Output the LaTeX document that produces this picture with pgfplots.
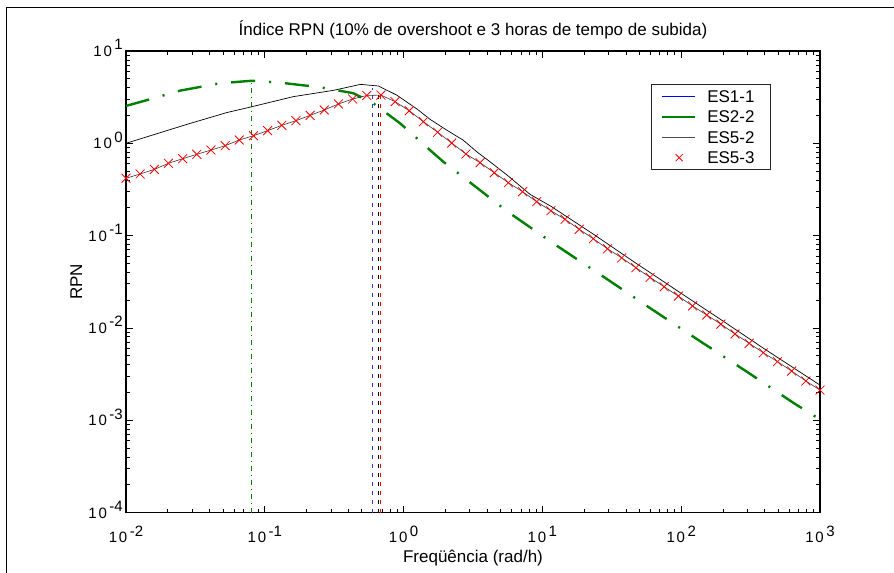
\documentclass[border=0pt]{standalone}
\usepackage{fontspec}
\setmainfont{Liberation Sans}
\usepackage{pgfplots}
\usepackage{pgfplotstable}
\pgfplotsset{compat=1.18}
\definecolor{mgreen}{rgb}{0,0.5,0}
\newcommand{\tl}[1]{1\kern1.8bp0\raisebox{6.5bp}{\kern2.5bp#1}}
\newcommand{\fs}{\fontsize{17bp}{20bp}\selectfont}
\pgfplotsset{
  mylineleg/.style={legend image code/.code={\draw[##1] (0bp,0bp) -- (33bp,0bp);}},
  mymarkleg/.style={legend image code/.code={\path[draw=none] (0bp,0bp) (33bp,0bp); \draw[##1, only marks] plot coordinates {(17bp,0bp)};}},
}

% ES5-3 (markers, logspace(-2,3,50))
\pgfplotstableread{
x y
0.01 0.418
0.012649 0.465
0.016 0.522
0.020236 0.607
0.025595 0.681
0.032375 0.760
0.040949 0.845
0.051795 0.942
0.065513 1.086
0.082864 1.208
0.10481 1.371
0.13257 1.567
0.16768 1.758
0.21210 2.009
0.26827 2.296
0.33932 2.667
0.42919 3.020
0.54287 3.30
0.68665 3.33
0.86851 2.825
1.0985 2.254
1.3895 1.714
1.7575 1.318
2.2230 1.007
2.8118 0.766
3.5565 0.617
4.4984 0.480
5.6899 0.374
7.1969 0.299
9.1029 0.233
11.514 0.186
14.563 0.150
18.420 0.117
23.300 0.0925
29.471 0.0719
37.276 0.0574
47.149 0.0449
59.636 0.0353
75.431 0.0279
95.410 0.0221
120.68 0.0173
152.64 0.0138
193.07 0.0110
244.21 0.00859
308.88 0.00681
390.69 0.00538
494.17 0.00431
625.06 0.00341
790.60 0.00266
1000 0.00212
}\tabEStres

% ES5-2
\pgfplotstableread{
x y
0.01 1.0
0.0281 1.62
0.0531 2.15
0.0806 2.49
0.160 3.20
0.313 3.75
0.49 4.35
0.657 4.18
0.892 3.33
1.25 2.35
1.55 1.82
2.0 1.42
2.69 1.08
3.4 0.80
4.19 0.632
5.7 0.44
8.14 0.28
11.514 0.208
23.3 0.1036
47.149 0.0503
95.41 0.0248
193.07 0.0123
390.69 0.00603
1000 0.00240
}\tabESdois

% ES2-2
\pgfplotstableread{
x y
0.01 2.54
0.0149 3.00
0.0245 3.72
0.0475 4.47
0.0806 4.76
0.1287 4.54
0.25 4.05
0.4345 3.49
0.605 2.71
0.755 2.11
0.942 1.65
1.276 1.10
1.566 0.832
1.93 0.632
2.67 0.434
5.62 0.1815
12.47 0.0791
27.5 0.0359
60 0.0163
132.7 0.0074
296.5 0.00336
661 0.0015
1000 0.00102
}\tabESum

\begin{document}
\begin{tikzpicture}
\useasboundingbox (0bp,0bp) rectangle (894bp,573bp);
\draw[line width=1bp] (6bp,0bp) -- (6bp,565bp) -- (894bp,565bp);
\begin{loglogaxis}[
  at={(126bp,60.5bp)}, anchor=south west,
  scale only axis, width=694bp, height=461.5bp,
  xmin=0.01, xmax=1000, ymin=0.0001, ymax=10,
  clip=false,
  axis line style={line width=1.1bp},
  every tick/.style={black, line width=0.8bp},
  major tick length=7bp, minor tick length=4bp,
  xtick={0.01,0.1,1,10,100,1000},
  xticklabels={\tl{-2},\tl{-1},\tl{0},\tl{1},\tl{2},\tl{3}},
  ytick={0.0001,0.001,0.01,0.1,1,10},
  yticklabels={\tl{-4},\tl{-3},\tl{-2},\tl{-1},\tl{0},\tl{1}},
  xticklabel style={font=\fontsize{15bp}{17bp}\selectfont, anchor=base, inner sep=0pt, yshift=-30bp},
  yticklabel style={font=\fontsize{15bp}{17bp}\selectfont, anchor=base east, inner sep=0pt, xshift=-3bp, yshift=-5.5bp},
  title={Índice RPN (10\% de overshoot e 3 horas de tempo de subida)},
  title style={font=\fs, anchor=base, at={(axis description cs:0.5,1)}, yshift=10bp, inner sep=0pt},
  xlabel={Freqüência (rad/h)},
  xlabel style={font=\fs, anchor=base, at={(axis description cs:0.5,0)}, yshift=-50bp, inner sep=0pt},
  ylabel={RPN},
  ylabel style={font=\fs, anchor=center, at={(axis description cs:-0.0715,0.5)}, inner sep=0pt},
  legend style={at={(axis description cs:0.756,0.9285)}, anchor=north west,
    draw=black!85, line width=0.9bp, fill=white, font=\fs,
    inner xsep=10bp, inner ysep=1.8bp, column sep=5bp, row sep=0pt,
    nodes={inner xsep=6bp, inner ysep=2.2bp, text height=14.1bp, text depth=1.9bp},
    cells={anchor=west}},
]
% vertical markers of the peaks
\addplot[forget plot, mgreen, line width=0.8bp, dash pattern=on 5bp off 4bp on 1bp off 4bp] coordinates {(0.0806,0.0001) (0.0806,4.76)};
\addplot[forget plot, blue!80, line width=0.8bp, dash pattern=on 4bp off 5bp] coordinates {(0.60,0.0001) (0.60,3.95)};
\addplot[forget plot, black, line width=0.8bp, dash pattern=on 4bp off 5bp] coordinates {(0.658,0.0001) (0.658,3.33)};
\addplot[forget plot, red, line width=0.8bp, dash pattern=on 4bp off 5bp] coordinates {(0.68,0.0001) (0.68,3.33)};
% curves
\addplot[forget plot, mgreen, line width=2.4bp, dash pattern=on 24bp off 14bp on 2bp off 14bp] table {\tabESum};
\addplot[forget plot, black, line width=0.7bp] table {\tabESdois};
\addplot[forget plot, black!80, line width=0.6bp] table {\tabEStres};
\addplot[forget plot, only marks, mark=x, red, mark size=6.3bp, mark options={line width=0.8bp}] table {\tabEStres};
% legend
\addlegendimage{mylineleg, blue, line width=1.8bp}
\addlegendentry{ES1-1}
\addlegendimage{mylineleg, mgreen, line width=2.2bp}
\addlegendentry{ES2-2}
\addlegendimage{mylineleg, black!70, line width=1bp}
\addlegendentry{ES5-2}
\addlegendimage{mymarkleg, red, mark=x, mark size=5bp, mark options={line width=0.8bp}}
\addlegendentry{ES5-3}
\end{loglogaxis}
\end{tikzpicture}
\end{document}
